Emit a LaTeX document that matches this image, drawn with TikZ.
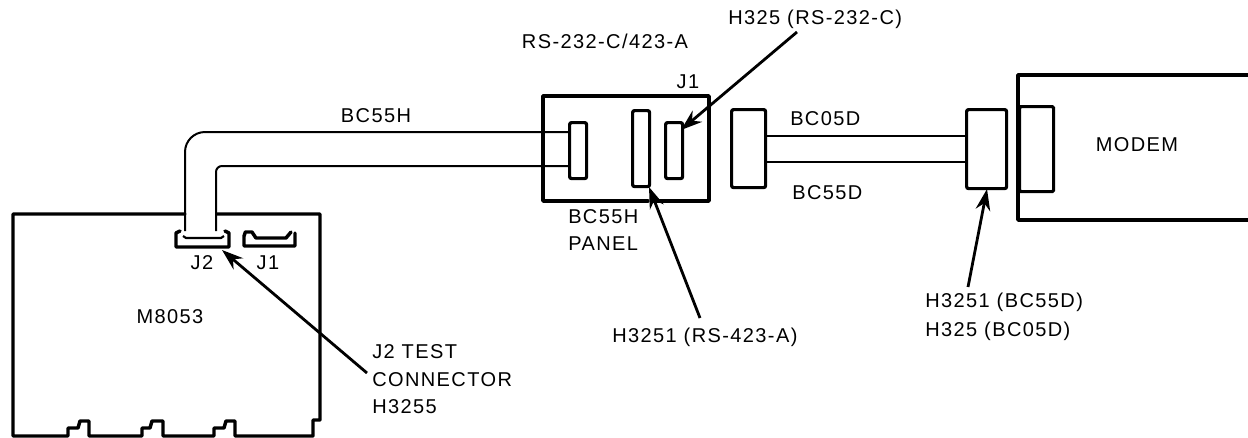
\documentclass[tikz,border=0pt]{standalone}
\usepackage{fontspec}
\setmainfont[LetterSpace=7]{Liberation Sans}
\usetikzlibrary{arrows.meta}
\tikzset{
  x=0.75pt,y=-0.75pt,
  heavy/.style={line width=2.6pt,line join=round,line cap=round},
  cablel/.style={line width=1.5pt},
  box/.style={draw,line width=2.4pt,rounded corners=1.5pt,inner sep=0pt,minimum width=0pt,fill=white},
  lbl/.style={inner sep=0pt,font=\fontsize{15}{15}\selectfont,anchor=center},
  lleft/.style={lbl,anchor=west},
  call/.style={line width=2.1pt,-{Stealth[length=16pt,width=11pt]},shorten >=0pt},
}
\newcommand{\cbox}[5]{\node[box,minimum width={(#4-#2)*0.75pt},minimum height={(#5-#3)*0.75pt},anchor=north west] (#1) at (#2,#3) {};}
\begin{document}
\begin{tikzpicture}
\useasboundingbox (0,0) rectangle (1248,437);
% board
\draw[heavy] (185,214) -- (13,214) -- (13,436) -- (68,436) -- (68,428) -- (78,428) -- (80,421) -- (89,421) -- (89,436)
  -- (142,436) -- (142,428) -- (150,428) -- (152,421) -- (163,421) -- (163,436)
  -- (214,436) -- (214,428) -- (224,428) -- (226,421) -- (235,421) -- (235,436)
  -- (313,436) -- (313,420) -- (320,420) -- (320,214) -- (217,214);
% connectors on board
\draw[heavy] (180,231) -- (176,233) -- (176,247) -- (229,247) -- (229,233) -- (225,231);
\draw[line width=1.6pt] (183,236) -- (186,238) -- (221,238) -- (224,236);
\draw[heavy] (245,233) -- (244,236) -- (244,246) -- (295,246) -- (295,233);
\draw[heavy] (245,232) -- (252,232) -- (256,238) -- (286,238) -- (291,232);
% panel
\draw[heavy] (648,201) -- (543,201) -- (543,96) -- (709,96) -- (709,201) -- (653,201);
\cbox{pa}{568}{121}{585}{177}
\cbox{pb}{631}{109}{648}{185}
\cbox{pc}{664}{121}{681}{177}
\cbox{pl}{730}{108}{764}{186}
\cbox{pr}{965}{108}{1005}{187}
% modem
\draw[heavy] (1248,75) -- (1018,75) -- (1018,220) -- (1248,220);
\node[box,minimum width={34*0.75pt},minimum height={85*0.75pt},anchor=north west,rounded corners=1pt] (mi) at (1018,105) {};
% named cable ends
\coordinate (c1) at (185,231);
\coordinate (c2) at (216,231);
\coordinate (a1) at (pa.west |- 0,132);
\coordinate (a2) at (pa.west |- 0,166);
\draw[cablel] (c1) -- (185,152) arc[start angle=180,end angle=90,x radius=20,y radius=-20] -- (a1);
\draw[cablel] (c2) -- (216,172) arc[start angle=180,end angle=90,x radius=6,y radius=-6] -- (a2);
\draw[cablel] (pl.east |- 0,136) -- (pr.west |- 0,136);
\draw[cablel] (pl.east |- 0,162) -- (pr.west |- 0,162);
% labels
\node[lbl] (t1) at (376,116) {BC55H};
\node[lbl] (t2) at (605,41) {RS-232-C/423-A};
\node[lleft] (t3) at (728,19) {H325 (RS-232-C)};
\node[lbl] (t4) at (688,82) {J1};
\node[lleft] (t5) at (568,217) {BC55H};
\node[lleft] (t6) at (568,244) {PANEL};
\node[lleft] (t7) at (790,119) {BC05D};
\node[lleft] (t8) at (792,193) {BC55D};
\node[lbl] (t9) at (1137,145) {MODEM};
\node[lleft] (t10) at (925,302) {H3251 (BC55D)};
\node[lleft] (t11) at (925,331) {H325 (BC05D)};
\node[lleft] (t12) at (612,337) {H3251 (RS-423-A)};
\node[lleft] (t13) at (372,352) {J2 TEST};
\node[lleft] (t14) at (372,380) {CONNECTOR};
\node[lleft] (t15) at (372,407) {H3255};
\node[lbl] (t16) at (170,317) {M8053};
\node[lbl] (t17) at (202,263) {J2};
\node[lbl] (t18) at (268,263) {J1};
% callouts
\coordinate (s1) at (367,373);
\coordinate (e1) at (222,250);
\coordinate (s2) at (797,32);
\coordinate (e2) at (681,130);
\coordinate (s3) at (700,318);
\coordinate (e3) at (649,187);
\coordinate (s4) at (968,287);
\coordinate (e4) at (987,189);
\draw[call] (s1) -- (e1);
\draw[call] (s2) -- (e2);
\draw[call] (s3) -- (e3);
\draw[call] (s4) -- (e4);
\end{tikzpicture}
\end{document}
